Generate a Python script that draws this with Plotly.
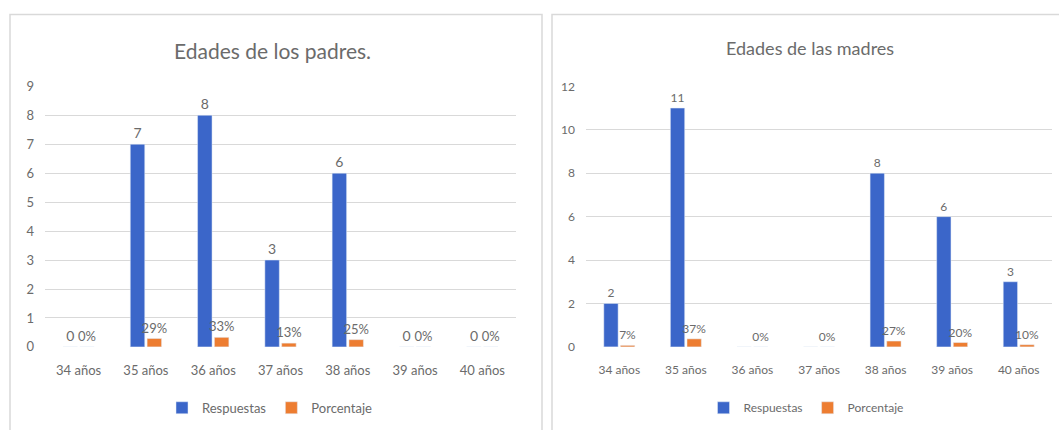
import plotly.graph_objects as go

# ---------------- data ----------------
categorias = ["34 años", "35 años", "36 años", "37 años", "38 años", "39 años", "40 años"]
padres_respuestas = [0, 7, 8, 3, 6, 0, 0]
padres_porcentaje = [0.0, 0.29, 0.33, 0.13, 0.25, 0.0, 0.0]
madres_respuestas = [2, 11, 0, 0, 8, 6, 3]
madres_porcentaje = [0.07, 0.37, 0.0, 0.0, 0.27, 0.20, 0.10]
titulo_padres = "Edades de los padres."
titulo_madres = "Edades de las madres"

# ---------------- style ----------------
W, H = 1059, 430
BLUE = "#3B66C9"
ORANGE = "#ED7D31"
GRAY = "#6b6b6b"
GRID = "#D9D9D9"
FONT = "Lato"


def px_x(v):
    return v / W


def px_y(v):
    # target pixel row -> paper fraction (with a small correction for the capture)
    d = (v - 7.5) / 0.9645
    return (H - d) / H


def pct(vals):
    return [f"{round(v * 100)}%" for v in vals]


fig = go.Figure()

# left chart
fig.add_bar(x=categorias, y=padres_respuestas, name="Respuestas", marker_color=BLUE,
            text=[str(v) for v in padres_respuestas], textposition="outside",
            constraintext="none", cliponaxis=False,
            textfont=dict(size=14, color=GRAY, family=FONT),
            xaxis="x", yaxis="y", legend="legend", hoverinfo="skip")
fig.add_bar(x=categorias, y=padres_porcentaje, name="Porcentaje", marker_color=ORANGE,
            text=pct(padres_porcentaje), textposition="outside",
            constraintext="none", cliponaxis=False,
            textfont=dict(size=13, color=GRAY, family=FONT),
            xaxis="x", yaxis="y", legend="legend", hoverinfo="skip")

# right chart
fig.add_bar(x=categorias, y=madres_respuestas, name="Respuestas", marker_color=BLUE,
            text=[str(v) if v else "" for v in madres_respuestas], textposition="outside",
            constraintext="none", cliponaxis=False,
            textfont=dict(size=12, color=GRAY, family=FONT),
            xaxis="x2", yaxis="y2", legend="legend2", hoverinfo="skip")
fig.add_bar(x=categorias, y=madres_porcentaje, name="Porcentaje", marker_color=ORANGE,
            text=pct(madres_porcentaje), textposition="outside",
            constraintext="none", cliponaxis=False,
            textfont=dict(size=12, color=GRAY, family=FONT),
            xaxis="x2", yaxis="y2", legend="legend2", hoverinfo="skip")

ydom = [px_y(347), px_y(86)]
axis_common = dict(showgrid=False, showline=False, zeroline=False, ticks="",
                   tickfont=dict(size=13, color=GRAY, family=FONT))
yaxis_common = dict(showgrid=True, gridcolor=GRID, gridwidth=1, showline=False,
                    zeroline=False, ticks="", tickfont=dict(size=13, color=GRAY, family=FONT),
                    ticklabelstandoff=10)

fig.update_layout(
    width=W, height=H, autosize=False,
    margin=dict(l=0, r=0, t=0, b=0),
    paper_bgcolor="white", plot_bgcolor="white",
    font=dict(family=FONT, color=GRAY),
    barmode="group", bargap=0.5, bargroupgap=0.14,
    xaxis=dict(domain=[px_x(45), px_x(516)], anchor="y", ticklabelstandoff=14, **axis_common),
    yaxis=dict(domain=ydom, anchor="x", range=[0, 9], dtick=1, **yaxis_common),
    xaxis2=dict(domain=[px_x(586), px_x(1052)], anchor="y2", ticklabelstandoff=14,
                **{**axis_common, "tickfont": dict(size=12, color=GRAY, family=FONT)}),
    yaxis2=dict(domain=ydom, anchor="x2", range=[0, 12], dtick=2,
                **{**yaxis_common, "tickfont": dict(size=12, color=GRAY, family=FONT)}),
    legend=dict(orientation="h", x=px_x(270), y=px_y(408), xanchor="center", yanchor="middle",
                font=dict(size=13, color=GRAY, family=FONT), bgcolor="rgba(0,0,0,0)",
                itemwidth=30, tracegroupgap=0),
    legend2=dict(orientation="h", x=px_x(806), y=px_y(408), xanchor="center", yanchor="middle",
                 font=dict(size=12, color=GRAY, family=FONT), bgcolor="rgba(0,0,0,0)",
                 itemwidth=30, tracegroupgap=0),
    showlegend=True,
    annotations=[
        dict(text=titulo_padres, x=px_x(272), y=px_y(50), xref="paper", yref="paper",
             xanchor="center", yanchor="middle", showarrow=False,
             font=dict(size=21, color=GRAY, family=FONT)),
        dict(text=titulo_madres, x=px_x(810), y=px_y(48), xref="paper", yref="paper",
             xanchor="center", yanchor="middle", showarrow=False,
             font=dict(size=18, color=GRAY, family=FONT)),
    ],
    shapes=[
        dict(type="rect", xref="paper", yref="paper", x0=px_x(10), x1=px_x(542),
             y0=-0.05, y1=px_y(14), line=dict(color=GRID, width=1.5), layer="below"),
        dict(type="rect", xref="paper", yref="paper", x0=px_x(552), x1=1.02,
             y0=-0.05, y1=px_y(14), line=dict(color=GRID, width=1.5), layer="below"),
    ],
)

post = (
    "document.documentElement.style.margin='0';"
    "document.documentElement.style.padding='0';"
    "document.documentElement.style.overflow='hidden';"
    "document.body.style.margin='0';"
    "document.body.style.padding='0';"
    "document.body.style.overflow='hidden';"
    "var gd=document.getElementById('{plot_id}');"
    "gd.style.position='fixed';gd.style.top='0px';gd.style.left='0px';"
)

fig.write_html("out.html", config={"displayModeBar": False}, post_script=post)
